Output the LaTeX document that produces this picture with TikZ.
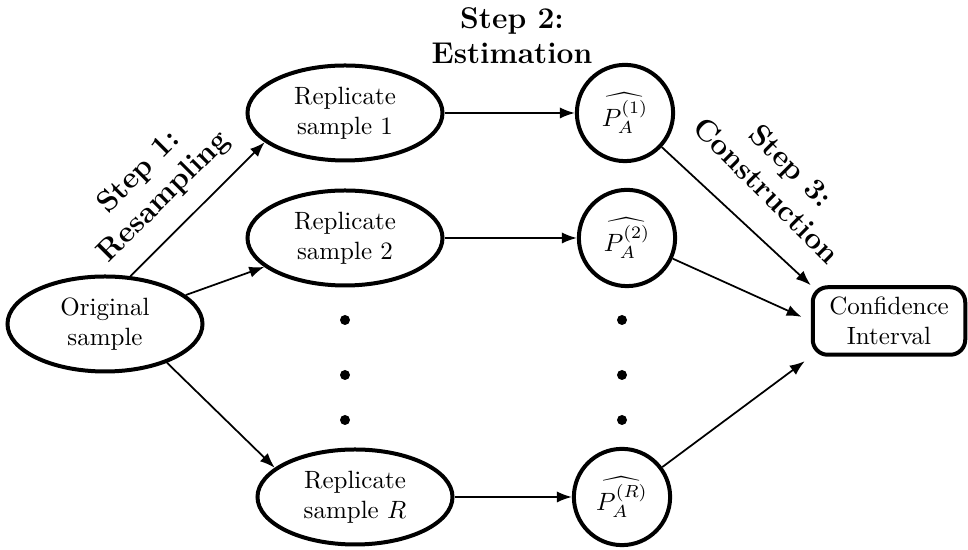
\documentclass[tikz,border=0pt]{standalone}
\usetikzlibrary{arrows.meta,shapes.geometric}
\tikzset{
  sample/.style={ellipse, draw, line width=1.6pt, minimum width=78pt, minimum height=38pt, align=center, inner sep=0pt},
  estim/.style={circle, draw, line width=1.6pt, minimum size=38.5pt, inner sep=0pt},
  interval/.style={rectangle, rounded corners=6pt, draw, line width=1.6pt, minimum width=61pt, minimum height=27pt, align=center, inner sep=0pt},
  steplabel/.style={font=\large\bfseries, align=center},
  flow/.style={-{Latex[length=6pt,width=4.5pt]}, line width=0.7pt},
  bigdot/.style={circle, fill, inner sep=0pt, minimum size=4pt}
}
\begin{document}
\begin{tikzpicture}[x=0.4pt, y=-0.4pt]
\useasboundingbox (0,0) rectangle (968,550);
% samples
\node[sample] (orig) at (105,324) {Original\\sample};
\node[sample] (rep1) at (345,113) {Replicate\\sample 1};
\node[sample] (rep2) at (345,238) {Replicate\\sample 2};
\node[sample] (repR) at (355,497) {Replicate\\sample $R$};
% estimates
\node[estim] (est1) at (625,113) {$\widehat{P_A^{(1)}}$};
\node[estim] (est2) at (627,238) {$\widehat{P_A^{(2)}}$};
\node[estim] (estR) at (622,497) {$\widehat{P_A^{(R)}}$};
% result
\node[interval] (ci) at (889,321) {Confidence\\Interval};
% dots
\foreach \y [count=\i] in {320,375,420} {
  \node[bigdot] (dl\i) at (345,\y) {};
  \node[bigdot] (dr\i) at (622,\y) {};
}
% step labels
\node[steplabel, rotate=45] (s1) at (152,185) {Step 1:\\Resampling};
\node[steplabel] (s2) at (512,36) {Step 2:\\Estimation};
\node[steplabel, rotate=-45] (s3) at (779,178) {Step 3:\\Construction};
% arrows
\draw[flow] (orig.62) -- (rep1.200);
\draw[flow] (orig) -- (rep2);
\draw[flow] (orig.-32) -- (repR.160);
\draw[flow] (rep1) -- (est1);
\draw[flow] (rep2) -- (est2);
\draw[flow] (repR) -- (estR);
\draw[flow] (est1) -- (ci.north west);
\draw[flow, shorten >=4pt] (est2) -- (ci.west);
\draw[flow, shorten >=3pt] (estR) -- (ci.south west);
\end{tikzpicture}
\end{document}
